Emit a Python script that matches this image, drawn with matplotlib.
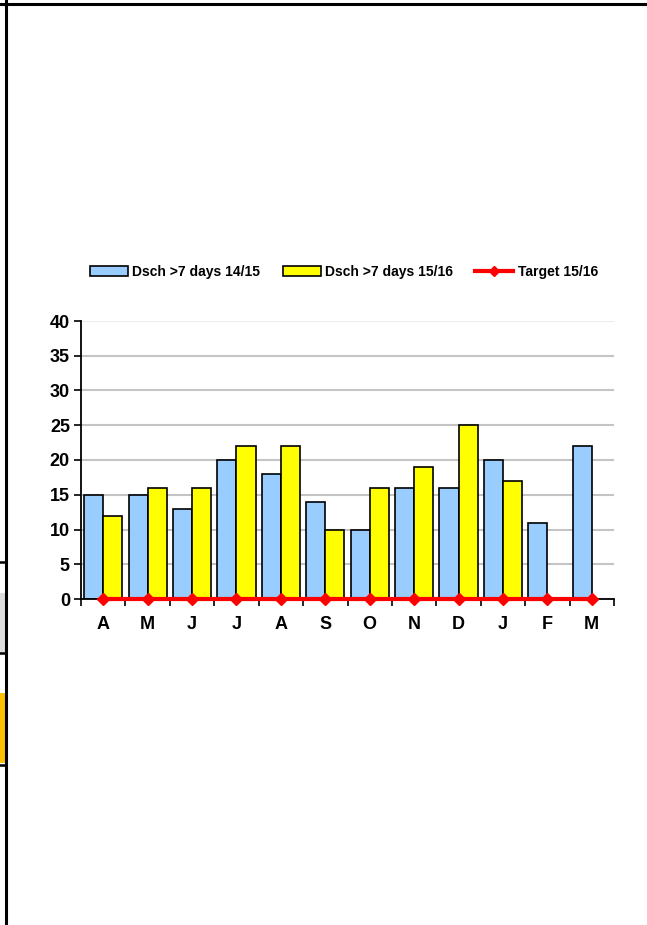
import numpy as np
import matplotlib
matplotlib.use("Agg")
import matplotlib.pyplot as plt
from matplotlib.lines import Line2D
from matplotlib.patches import Rectangle

plt.rcParams['font.family'] = ['Liberation Sans Narrow', 'Liberation Sans', 'DejaVu Sans']
plt.rcParams['font.weight'] = 'bold'

months = ['A', 'M', 'J', 'J', 'A', 'S', 'O', 'N', 'D', 'J', 'F', 'M']
dsch_1415 = [15, 15, 13, 20, 18, 14, 10, 16, 16, 20, 11, 22]
dsch_1516 = [12, 16, 16, 22, 22, 10, 16, 19, 25, 17, np.nan, np.nan]
target_1516 = [0, 0, 0, 0, 0, 0, 0, 0, 0, 0, 0, 0]

W, H = 647, 925
fig = plt.figure(figsize=(W / 100, H / 100), dpi=100)

# page frame lines around the chart
fig.add_artist(Line2D([0, 1], [1 - 4 / H, 1 - 4 / H], color='black', lw=2.2))
fig.add_artist(Line2D([6 / W, 6 / W], [0, 1], color='black', lw=2.2))
fig.add_artist(Rectangle((0, 1 - 653 / H), 6 / W, 60 / H, color='#dcdcdc', lw=0))
fig.add_artist(Rectangle((0, 1 - 763 / H), 6 / W, 70 / H, color='#ffc000', lw=0))
for yy in [562, 653, 765]:
    fig.add_artist(Line2D([0, 6 / W], [1 - yy / H, 1 - yy / H], color='black', lw=1.8))

ax = fig.add_axes([81 / W, 1 - 599 / H, (614 - 81) / W, (599 - 321) / H])

x = np.arange(len(months))
bw = 0.43
b1 = ax.bar(x - bw / 2, dsch_1415, bw, color='#99ccff', edgecolor='black', lw=1.2,
            label='Dsch >7 days 14/15', zorder=2)
b2 = ax.bar(x + bw / 2, dsch_1516, bw, color='#ffff00', edgecolor='black', lw=1.2,
            label='Dsch >7 days 15/16', zorder=2)
ln, = ax.plot(x, target_1516, color='#ff0000', lw=3, marker='D', ms=6,
              label='Target 15/16', zorder=5, clip_on=False)

ax.set_xlim(-0.5, len(months) - 0.5)
ax.set_ylim(0, 40)
ax.set_yticks(np.arange(0, 41, 5))
ax.set_xticks(x)
ax.set_xticklabels(months)
ax.set_xticks(np.arange(-0.5, len(months), 1), minor=True)
ax.tick_params(axis='x', which='major', length=0, pad=12, labelsize=13)
ax.tick_params(axis='x', which='minor', length=5, width=1.2, direction='out')
ax.tick_params(axis='y', length=5, width=1.2, direction='out', labelsize=13, pad=3)

ax.yaxis.grid(True, color='#c4c4c4', lw=1.5, zorder=0)
ax.get_ygridlines()[-1].set_color('#ececec')
ax.set_axisbelow(True)
for s in ['top', 'right']:
    ax.spines[s].set_visible(False)
for s in ['left', 'bottom']:
    ax.spines[s].set_linewidth(1.3)

fig.legend([b1, b2, ln], [b1.get_label(), b2.get_label(), ln.get_label()],
           loc='center', bbox_to_anchor=(344 / W, 1 - 272 / H), ncol=3,
           frameon=False, fontsize=10, handlelength=2.75, handleheight=0.65,
           handletextpad=0.3, columnspacing=1.6, markerscale=0.9)

fig.savefig('out.png', dpi=100)
